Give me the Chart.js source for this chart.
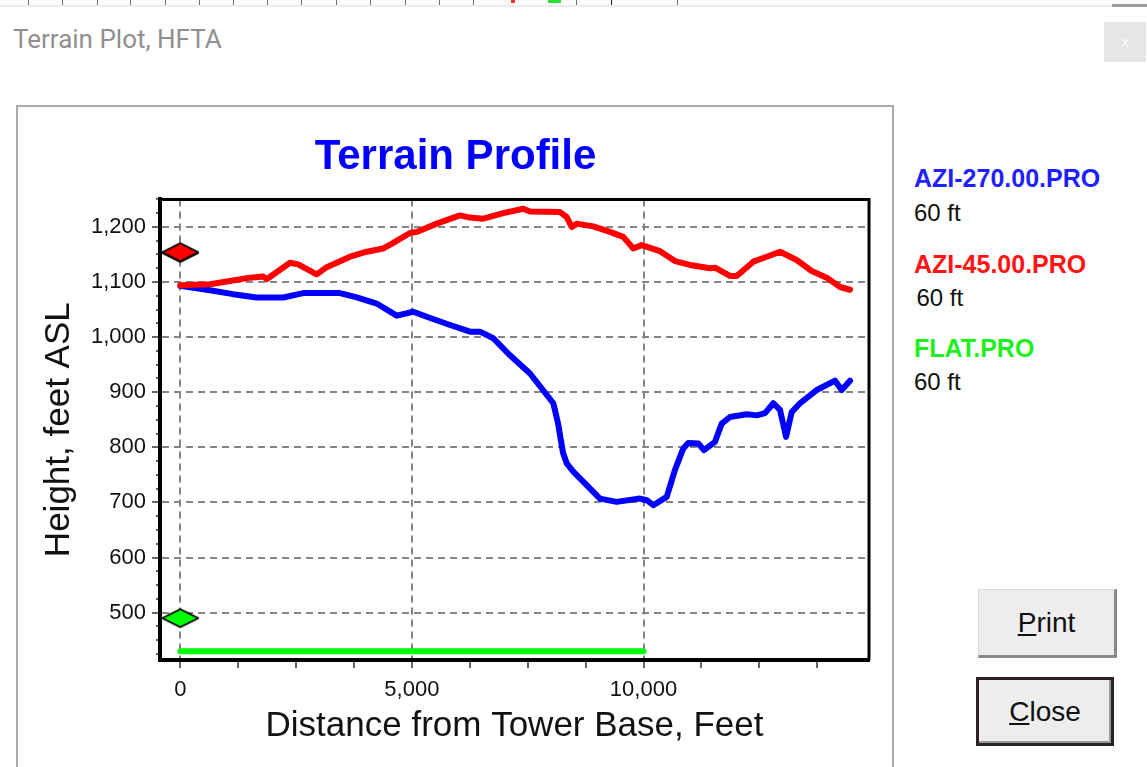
<!DOCTYPE html>
<html>
<head>
<meta charset="utf-8">
<script src="https://cdn.jsdelivr.net/npm/chart.js@4.4.1/dist/chart.umd.min.js"></script>
<style>
html,body{margin:0;padding:0;background:#fff;overflow:hidden;width:1147px;height:767px;font-family:"Liberation Sans",Arial,sans-serif;}
#topstrip{position:absolute;left:0;top:0;width:1147px;height:5px;background:#fbfbfb;border-bottom:2px solid #ececec;}
.tk{position:absolute;top:0;width:1px;height:5px;background:#6d6d6d;}
#wtitle{position:absolute;left:13px;top:26px;font-family:Roboto,"Liberation Sans",sans-serif;font-size:26px;line-height:1;color:#8f8f8f;white-space:nowrap;}
#xbtn{position:absolute;left:1104px;top:22px;width:42px;height:40px;background:#e6e6e6;color:#fbfbfb;font-size:15px;text-align:center;line-height:40px;}
#panel{position:absolute;left:16px;top:105px;width:878px;height:700px;border:2px solid #ababab;box-sizing:border-box;}
#cwrap{position:absolute;left:18px;top:108px;width:875px;height:659px;}
.leg{position:absolute;white-space:nowrap;line-height:1;}
.lt{font-weight:bold;font-size:25px;}
.lh{font-size:24px;color:#111;}
.btn{position:absolute;box-sizing:border-box;background:#ededed;text-align:center;font-size:28px;color:#111;}
#print{left:978px;top:589px;width:139px;height:69px;border-top:1px solid #d8d8d8;border-left:1px solid #d8d8d8;border-right:3px solid #8a8a8a;border-bottom:3px solid #8a8a8a;line-height:65px;}
#close{left:976px;top:677px;width:138px;height:69px;border:3px solid #2b2222;line-height:63px;box-shadow:inset -2px -2px 0 #9a9a9a;}
</style>
</head>
<body>
<div id="topstrip"></div>
<div class="tk" style="left:28px"></div><div class="tk" style="left:62px"></div><div class="tk" style="left:97px"></div>
<div class="tk" style="left:130px"></div><div class="tk" style="left:165px"></div><div class="tk" style="left:199px"></div>
<div class="tk" style="left:233px"></div><div class="tk" style="left:267px"></div><div class="tk" style="left:301px"></div>
<div class="tk" style="left:336px"></div><div class="tk" style="left:370px"></div><div class="tk" style="left:405px"></div>
<div class="tk" style="left:439px"></div><div class="tk" style="left:473px"></div>
<div class="tk" style="left:511px;width:4px;height:3px;background:#ff3030"></div>
<div class="tk" style="left:548px;width:13px;height:3px;background:#30e030"></div>
<div class="tk" style="left:576px"></div><div class="tk" style="left:611px;background:#222"></div><div class="tk" style="left:677px"></div>
<div style="position:absolute;left:1112px;top:4px;width:35px;height:3px;background:#9a9a9a"></div>
<div id="wtitle">Terrain Plot, HFTA</div>
<div id="xbtn">x</div>
<div id="panel"></div>
<div id="cwrap"><canvas id="c"></canvas></div>

<div class="leg lt" style="left:914px;top:165.5px;color:#1f1fff">AZI-270.00.PRO</div>
<div class="leg lh" style="left:914px;top:200.7px">60 ft</div>
<div class="leg lt" style="left:914px;top:251.5px;color:#ff1414">AZI-45.00.PRO</div>
<div class="leg lh" style="left:916.5px;top:286.4px">60 ft</div>
<div class="leg lt" style="left:914px;top:335.5px;color:#1ef01e">FLAT.PRO</div>
<div class="leg lh" style="left:914px;top:369.7px">60 ft</div>

<div id="print" class="btn"><u>P</u>rint</div>
<div id="close" class="btn"><u>C</u>lose</div>

<script>
// ---- Data (distance in feet from tower base, elevation in feet ASL) ----
const azi270Dist = [0, 641, 1138, 1649, 2224, 2655, 3448, 3808, 4240, 4672, 5030, 5320, 5823, 6254, 6470, 6757, 7118, 7550, 8053, 8154, 8262, 8342, 8485, 9060, 9421, 9924, 10069, 10212, 10501, 10680, 10859, 10967, 11183, 11306, 11544, 11688, 11867, 12228, 12444, 12623, 12802, 12947, 13077, 13199, 13379, 13739, 14135, 14279, 14458];
const azi270Elev = [1093, 1085, 1078, 1072, 1072, 1080, 1080, 1072, 1061, 1039, 1046, 1037, 1022, 1010, 1010, 998, 967, 934, 880, 844, 790, 771, 756, 707, 701, 707, 704, 695, 710, 759, 798, 808, 807, 795, 810, 843, 855, 860, 858, 862, 880, 868, 819, 864, 880, 904, 921, 904, 921];

const azi45Dist = [0, 641, 1073, 1505, 1792, 1865, 2368, 2547, 2945, 3161, 3664, 4024, 4383, 4598, 4959, 5104, 5535, 6039, 6254, 6541, 6973, 7405, 7550, 8197, 8342, 8450, 8558, 8916, 9277, 9564, 9780, 9961, 10356, 10680, 11004, 11436, 11544, 11867, 12012, 12371, 12660, 12947, 13307, 13631, 13955, 14243, 14458];
const azi45Elev = [1094, 1096, 1102, 1108, 1110, 1105, 1135, 1132, 1114, 1127, 1146, 1155, 1161, 1171, 1189, 1191, 1206, 1221, 1217, 1215, 1225, 1233, 1228, 1227, 1218, 1200, 1206, 1201, 1191, 1182, 1161, 1167, 1156, 1138, 1131, 1125, 1126, 1111, 1111, 1137, 1146, 1155, 1140, 1120, 1108, 1091, 1086];

const flatDist = [0, 10000];
const flatElev = [430, 430];

const profileNames = ['AZI-270.00.PRO', 'AZI-45.00.PRO', 'FLAT.PRO'];
const antennaHeightFt = [60, 60, 60];

// tick positions (all tick marks) and the labelled / gridded ones
const xTickValues = [0, 1250, 2500, 3750, 5000, 6250, 7500, 8750, 10000, 11250, 12500, 13750];
const xMajorTicks = [0, 5000, 10000];
const yTickValues = [425, 450, 475, 500, 525, 550, 575, 600, 625, 650, 675, 700, 725, 750, 775, 800, 825, 850, 875, 900, 925, 950, 975, 1000, 1025, 1050, 1075, 1100, 1125, 1150, 1175, 1200, 1225, 1250];
const yMajorTicks = [500, 600, 700, 800, 900, 1000, 1100, 1200];
const X_MIN = -438, X_MAX = 14868;
const Y_MIN = 414, Y_MAX = 1250;

// ---- Styles ----
const FONT = '"Liberation Sans", Arial, sans-serif';
const BLUE = '#0000ff', RED = '#ff0000', GREEN = '#00ff00';
const GRID = '#858585';

function diamond(fill) {
  const c = document.createElement('canvas');
  c.width = 38; c.height = 22;
  const g = c.getContext('2d');
  g.beginPath();
  g.moveTo(1, 11); g.lineTo(19, 2); g.lineTo(37, 11); g.lineTo(19, 20); g.closePath();
  g.fillStyle = fill; g.fill();
  g.lineWidth = 1.6; g.strokeStyle = '#000'; g.stroke();
  return c;
}

const pts = (xs, ys) => xs.map((x, i) => ({x: x, y: ys[i]}));
const marker = (xs, ys, h) => [{x: xs[0], y: ys[0] + h}];

function lineDs(label, data, color) {
  return {label: label, data: data, showLine: true, borderColor: color, backgroundColor: color,
    borderWidth: 6, pointRadius: 0, tension: 0, borderJoinStyle: 'round', borderCapStyle: 'round'};
}
function markerDs(label, data, color) {
  return {label: label, data: data, showLine: false, pointStyle: diamond(color), pointRadius: 10, pointHoverRadius: 10};
}

const frame = {
  id: 'frame',
  afterDatasetsDraw(chart) {
    const {ctx, chartArea: a} = chart;
    ctx.save();
    ctx.strokeStyle = '#000';
    ctx.lineWidth = 3;
    ctx.beginPath();
    ctx.moveTo(a.left, a.top); ctx.lineTo(a.right, a.top); ctx.lineTo(a.right, a.bottom);
    ctx.stroke();
    ctx.restore();
  }
};

const isMajor = (c, list) => !!(c.tick && list.includes(c.tick.value));

new Chart(document.getElementById('c'), {
  type: 'scatter',
  data: {
    datasets: [
      markerDs(profileNames[1] + ' tower', marker(azi45Dist, azi45Elev, antennaHeightFt[1]), RED),
      markerDs(profileNames[2] + ' tower', marker(flatDist, flatElev, antennaHeightFt[2]), GREEN),
      markerDs(profileNames[0] + ' tower', marker(azi270Dist, azi270Elev, antennaHeightFt[0]), BLUE),
      lineDs(profileNames[1], pts(azi45Dist, azi45Elev), RED),
      lineDs(profileNames[0], pts(azi270Dist, azi270Elev), BLUE),
      lineDs(profileNames[2], pts(flatDist, flatElev), GREEN)
    ]
  },
  options: {
    responsive: true,
    maintainAspectRatio: false,
    animation: false,
    events: [],
    layout: {padding: 0},
    plugins: {
      legend: {display: false},
      tooltip: {enabled: false},
      title: {
        display: true, text: 'Terrain Profile', color: BLUE,
        font: {family: FONT, size: 42, weight: 'bold', lineHeight: 1.2},
        padding: {top: 24, bottom: 17}
      }
    },
    scales: {
      x: {
        type: 'linear', position: 'bottom', min: X_MIN, max: X_MAX,
        afterBuildTicks: s => { s.ticks = xTickValues.map(v => ({value: v})); },
        afterFit: s => { s.height = 107; },
        ticks: {
          autoSkip: false, maxRotation: 0, minRotation: 0,
          padding: 9, color: '#111', font: {family: FONT, size: 22},
          callback: v => xMajorTicks.includes(v) ? v.toLocaleString('en-US') : ''
        },
        grid: {
          color: c => isMajor(c, xMajorTicks) ? GRID : 'rgba(0,0,0,0)',
          lineWidth: 2, tickLength: 8, tickWidth: 1.5, tickColor: '#333'
        },
        border: {display: true, color: '#000', width: 4, dash: [7, 5]},
        title: {
          display: true, text: 'Distance from Tower Base, Feet', color: '#111',
          font: {family: FONT, size: 35}, padding: {top: 0, bottom: 20}
        }
      },
      y: {
        type: 'linear', position: 'left', min: Y_MIN, max: Y_MAX,
        afterBuildTicks: s => { s.ticks = yTickValues.map(v => ({value: v})); },
        afterFit: s => { s.width = 142; },
        ticks: {
          autoSkip: false,
          padding: 6, color: '#111', font: {family: FONT, size: 22},
          callback: v => yMajorTicks.includes(v) ? v.toLocaleString('en-US') : ''
        },
        grid: {
          color: c => isMajor(c, yMajorTicks) ? GRID : 'rgba(0,0,0,0)',
          lineWidth: 2, tickLength: 8, tickWidth: 1.5, tickColor: '#333',
          tickBorderDash: c => isMajor(c, yMajorTicks) ? [] : [0, 4, 4, 30]
        },
        border: {display: true, color: '#000', width: 4, dash: [7, 5]},
        title: {
          display: true, text: 'Height, feet ASL', color: '#111',
          font: {family: FONT, size: 35}, padding: {top: 20, bottom: 0}
        }
      },
      yRight: {
        type: 'linear', position: 'right', display: true,
        afterFit: s => { s.width = 24; },
        ticks: {display: false},
        grid: {display: false, drawTicks: false},
        border: {display: false}
      }
    }
  },
  plugins: [frame]
});
</script>
</body>
</html>
